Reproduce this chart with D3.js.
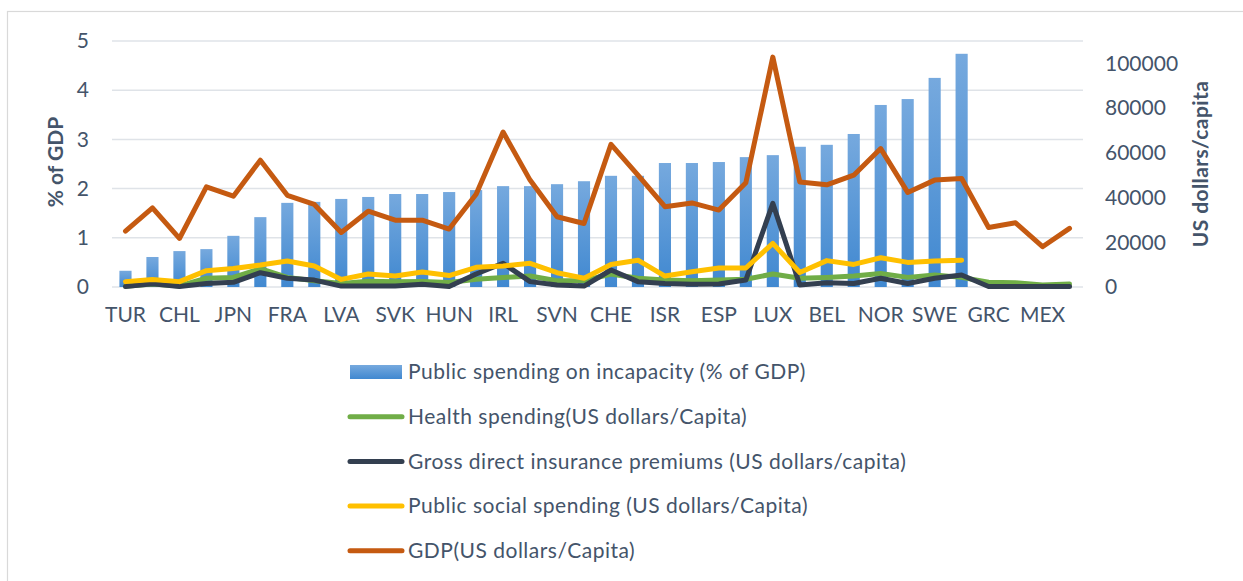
<!DOCTYPE html>
<html>
<head>
<meta charset="utf-8">
<script src="https://cdn.jsdelivr.net/npm/d3@7"></script>
<style>
  body { margin: 0; background: #fff; }
  text { font-family: Lato, "Open Sans", sans-serif; fill: #44546a; }
</style>
</head>
<body>
<div id="chart"></div>
<script>
// countries, only every other one is labelled on the axis
const countries = ["TUR","KOR","CHL","CAN","JPN","USA","FRA","ITA","LVA","CZE","SVK","POL",
  "HUN","GBR","IRL","AUS","SVN","PRT","CHE","DEU","ISR","NZL","ESP","AUT",
  "LUX","ISL","BEL","NLD","NOR","FIN","SWE","DNK","GRC","EST","MEX","LTU"];

// % of GDP (left axis)
const incapacity = [0.33,0.61,0.73,0.77,1.04,1.42,1.71,1.73,1.79,1.83,1.89,1.89,
  1.93,1.97,2.05,2.05,2.09,2.15,2.26,2.26,2.52,2.52,2.54,2.64,
  2.68,2.85,2.89,3.11,3.70,3.82,4.25,4.74,null,null,null,null];

// US dollars / capita (right axis)
const health = [300,1300,500,3900,4300,8200,4300,2800,1600,2600,2400,2500,
  2000,3500,4300,4900,2800,2800,5800,3900,3100,2800,3100,3500,
  5800,3900,4300,4900,6000,4300,5400,4300,2100,1900,900,1300];

const insurance = [200,1500,200,1600,2100,6400,3900,3100,400,400,400,1200,
  200,5800,10600,2400,900,400,7600,2400,1600,1200,1300,3100,
  37400,900,1900,1600,3900,1600,3900,5400,200,200,200,200];

const socialSpending = [2400,3400,2400,7300,8300,9800,11600,9400,3400,5800,4900,6700,
  5100,8800,9400,10600,6400,3900,10100,12000,4900,6800,8500,8500,
  19500,6500,11800,10100,13100,11000,11600,12000,null,null,null,null];

const gdp = [25000,35400,21700,44800,40600,56700,41000,36900,24400,33900,29900,29900,
  25900,41500,69300,47800,31400,28400,63800,50000,35900,37600,34400,46600,
  102800,47000,45700,50000,61900,42300,47800,48500,26600,28700,18000,26200];

const leftTicks = [0,1,2,3,4,5];
const rightTicks = [0,20000,40000,60000,80000,100000];

const lineSeries = [
  {name: "Health spending(US dollars/Capita)", values: health, color: "#70ad47"},
  {name: "Gross direct insurance premiums (US dollars/capita)", values: insurance, color: "#333f50"},
  {name: "Public social spending (US dollars/Capita)", values: socialSpending, color: "#ffc000"},
  {name: "GDP(US dollars/Capita)", values: gdp, color: "#c55a11"}
];

const width = 1243, height = 581;
const svg = d3.select("#chart").append("svg")
    .attr("width", width)
    .attr("height", height);

// chart frame
svg.append("rect")
    .attr("x", 7.5).attr("y", 11.5)
    .attr("width", 1260).attr("height", 600)
    .attr("fill", "none")
    .attr("stroke", "#d9d9d9")
    .attr("stroke-width", 1.2);

const defs = svg.append("defs");
const grad = defs.append("linearGradient")
    .attr("id", "barGrad")
    .attr("x1", 0).attr("y1", 0).attr("x2", 0).attr("y2", 1);
grad.append("stop").attr("offset", "0%").attr("stop-color", "#76a9de");
grad.append("stop").attr("offset", "100%").attr("stop-color", "#4088d0");

let plot = {left: 112, right: 1083, top: 41, bottom: 287};

let x = d3.scaleBand()
    .domain(countries)
    .range([plot.left, plot.right])
    .paddingInner(0.55)
    .paddingOuter(0.275);

let yLeft = d3.scaleLinear().domain([0, 5]).range([plot.bottom, plot.top]);
let yRight = d3.scaleLinear().domain([0, 110000]).range([plot.bottom, plot.top]);

// gridlines
svg.append("g")
    .selectAll("line")
    .data(leftTicks)
    .enter().append("line")
    .attr("x1", plot.left)
    .attr("x2", plot.right)
    .attr("y1", d => yLeft(d))
    .attr("y2", d => yLeft(d))
    .attr("stroke", "#dfe3e8")
    .attr("stroke-width", 1.5);

function styleTicks(g) {
  g.select(".domain").remove();
  g.selectAll("text")
      .attr("font-size", 21)
      .style("font-family", "Lato, 'Open Sans', sans-serif")
      .attr("fill", "#44546a");
}

// left axis
svg.append("g")
    .attr("transform", "translate(" + (plot.left - 1) + ",0)")
    .call(d3.axisLeft(yLeft).tickValues(leftTicks).tickSize(0).tickPadding(22).tickFormat(d3.format("d")))
    .call(styleTicks);

// right axis
svg.append("g")
    .attr("transform", "translate(" + plot.right + ",0)")
    .call(d3.axisRight(yRight).tickValues(rightTicks).tickSize(0).tickPadding(22).tickFormat(d3.format("d")))
    .call(styleTicks);

// bottom axis, every other label
svg.append("g")
    .attr("transform", "translate(0," + plot.bottom + ")")
    .call(d3.axisBottom(x).tickSize(0).tickPadding(20)
      .tickFormat((d, i) => i % 2 === 0 ? d : ""))
    .call(styleTicks);

// axis titles
svg.append("text")
    .attr("transform", "translate(63,162) rotate(-90)")
    .attr("text-anchor", "middle")
    .attr("font-size", 21)
    .attr("font-weight", "bold")
    .text("% of GDP");

svg.append("text")
    .attr("transform", "translate(1208,164) rotate(-90)")
    .attr("text-anchor", "middle")
    .attr("font-size", 21)
    .attr("font-weight", "bold")
    .attr("letter-spacing", 0.4)
    .text("US dollars/capita");

// bars
svg.append("g")
    .selectAll("rect")
    .data(countries.map((c, i) => ({c: c, v: incapacity[i]})).filter(d => d.v != null))
    .enter().append("rect")
    .attr("x", d => x(d.c))
    .attr("y", d => yLeft(d.v))
    .attr("width", x.bandwidth())
    .attr("height", d => yLeft(0) - yLeft(d.v))
    .attr("fill", "url(#barGrad)");

// lines
const line = d3.line()
    .defined(d => d.v != null)
    .x(d => x(d.c) + x.bandwidth() / 2)
    .y(d => yRight(d.v));

lineSeries.forEach(s => {
  svg.append("path")
      .datum(countries.map((c, i) => ({c: c, v: s.values[i]})))
      .attr("d", line)
      .attr("fill", "none")
      .attr("stroke", s.color)
      .attr("stroke-width", 5)
      .attr("stroke-linejoin", "round")
      .attr("stroke-linecap", "round");
});

// legend
let legend = svg.append("g");
let legendItems = [{name: "Public spending on incapacity (% of GDP)", bar: true}].concat(lineSeries);
legendItems.forEach((s, i) => {
  let ly = 372 + i * 44.7;
  if (s.bar) {
    legend.append("rect")
        .attr("x", 350).attr("y", ly - 7)
        .attr("width", 52).attr("height", 14)
        .attr("fill", "url(#barGrad)");
  } else {
    legend.append("line")
        .attr("x1", 350).attr("x2", 402)
        .attr("y1", ly).attr("y2", ly)
        .attr("stroke", s.color)
        .attr("stroke-width", 5)
        .attr("stroke-linecap", "round");
  }
  legend.append("text")
      .attr("x", 408)
      .attr("y", ly)
      .attr("dy", "0.35em")
      .attr("font-size", 21)
      .attr("letter-spacing", 0.5)
      .text(s.name);
});
</script>
</body>
</html>
